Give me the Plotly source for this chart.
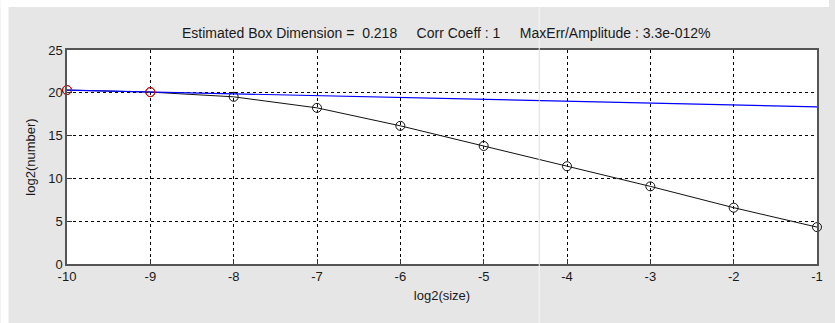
import plotly.graph_objects as go

# data
log2_size = [-10, -9, -8, -7, -6, -5, -4, -3, -2, -1]
log2_number = [20.32, 20.08, 19.53, 18.24, 16.14, 13.79, 11.42, 9.07, 6.58, 4.31]
fit_points_x = [-10, -9]
fit_points_y = [20.32, 20.08]
fit_line_x = [-10, -1]
fit_line_y = [20.32, 18.36]

NB = "\u00a0"
title_parts = ["Estimated Box Dimension =" + NB * 2 + "0.218",
               "Corr Coeff : 1",
               "MaxErr/Amplitude : 3.3e-012%"]
title_text = (NB * 5).join(title_parts)
x_ticks = [-10, -9, -8, -7, -6, -5, -4, -3, -2, -1]
y_ticks = [0, 5, 10, 15, 20, 25]

W, H = 835, 323
L, R, T, B = 67, 12, 50, 59
pw, ph = W - L - R, H - T - B

FAM = "Liberation Sans, Arial, sans-serif"
font = dict(family=FAM, size=13, color="#1a1a1a")

fig = go.Figure()
fig.add_trace(go.Scatter(
    x=log2_size, y=log2_number, mode="lines+markers",
    line=dict(color="#111111", width=1),
    marker=dict(symbol="circle-open", size=9, color="#111111", line=dict(width=1)),
    showlegend=False, hoverinfo="skip", cliponaxis=False))
fig.add_trace(go.Scatter(
    x=fit_line_x, y=fit_line_y, mode="lines",
    line=dict(color="#0000ff", width=1.2),
    showlegend=False, hoverinfo="skip"))
fig.add_trace(go.Scatter(
    x=fit_points_x, y=fit_points_y, mode="markers",
    marker=dict(symbol="circle-open", size=9, color="#ff0000", line=dict(width=1)),
    showlegend=False, hoverinfo="skip", cliponaxis=False))

axis_common = dict(
    showgrid=True, gridcolor="#000000", gridwidth=1, griddash="3px,3px",
    zeroline=False, showline=True, linecolor="#555555", linewidth=1.5, mirror=True,
    ticks="inside", ticklen=5, tickcolor="#333333", tickfont=font,
)

fig.update_xaxes(range=[-10, -1], tickvals=x_ticks, ticktext=[str(v) for v in x_ticks],
                 title=dict(text="log2(size)", font=font, standoff=8), **axis_common)
fig.update_yaxes(range=[0, 25], tickvals=y_ticks, ticktext=[str(v) for v in y_ticks],
                 title=dict(text="log2(number)", font=font, standoff=10), **axis_common)

def px_x(p):
    return (p - L) / pw

def px_y(p):
    return (H - B - p) / ph

shapes = [
    dict(type="rect", xref="paper", yref="paper", x0=px_x(0), x1=px_x(W), y0=px_y(7), y1=px_y(0),
         fillcolor="#ffffff", line=dict(width=0), layer="below"),
    dict(type="rect", xref="paper", yref="paper", x0=px_x(0), x1=px_x(8), y0=px_y(H), y1=px_y(0),
         fillcolor="#ffffff", line=dict(width=0), layer="below"),
    dict(type="line", xref="paper", yref="paper", x0=px_x(543), x1=px_x(543), y0=px_y(H), y1=0,
         line=dict(color="#f6f6f6", width=1), layer="above"),
    dict(type="line", xref="paper", yref="paper", x0=px_x(543), x1=px_x(543), y0=px_y(7), y1=1,
         line=dict(color="#f6f6f6", width=1), layer="above"),
    dict(type="line", xref="paper", yref="paper", x0=px_x(543), x1=px_x(543), y0=0, y1=1,
         line=dict(color="#dddddd", width=1), layer="above"),
]

fig.update_layout(
    width=W, height=H,
    margin=dict(l=L, r=R, t=T, b=B, pad=0),
    paper_bgcolor="#e6e6e6", plot_bgcolor="#ffffff",
    font=font,
    shapes=shapes,
    annotations=[dict(text=title_text, xref="paper", yref="paper", x=px_x(449.5), y=1,
                      xanchor="center", yanchor="bottom", yshift=7, showarrow=False,
                      font=dict(family=FAM, size=14, color="#1a1a1a"))],
)

fig.write_html("out.html")
